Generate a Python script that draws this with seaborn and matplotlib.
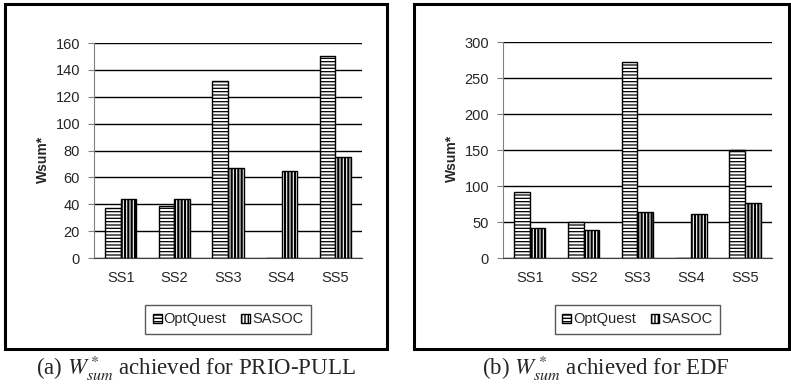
import pandas as pd
import matplotlib
matplotlib.use('Agg')
import matplotlib.pyplot as plt
import seaborn as sns
from matplotlib.patches import Patch, Rectangle

# values
subsystems = ['SS1', 'SS2', 'SS3', 'SS4', 'SS5']
methods = ['OptQuest', 'SASOC']
prio_optquest = [37, 39, 132, 0, 150]
prio_sasoc = [44, 44, 67, 65, 75]
edf_optquest = [92, 50, 273, 0, 150]
edf_sasoc = [42, 39, 64, 61, 76]
prio_ticks = [0, 20, 40, 60, 80, 100, 120, 140, 160]
edf_ticks = [0, 50, 100, 150, 200, 250, 300]
captions = [r'(a) $W^*_{sum}$ achieved for PRIO-PULL', r'(b) $W^*_{sum}$ achieved for EDF']

sns.set_style('white')
plt.rcParams['font.family'] = ['Liberation Sans', 'DejaVu Sans']
plt.rcParams['hatch.linewidth'] = 1.0
plt.rcParams['mathtext.fontset'] = 'stix'

hatches = ['-----', '|||||']
hatch_widths = [0.9, 1.6]


def make_frame(opt, sas):
    return pd.DataFrame({
        'subsystem': subsystems * 2,
        'method': [methods[0]] * len(subsystems) + [methods[1]] * len(subsystems),
        'wsum': opt + sas,
    })


def style_patch(p, h, w):
    p.set_hatch(h)
    if hasattr(p, 'set_hatch_linewidth'):
        p.set_hatch_linewidth(w)


def draw_panel(ax, df, ticks):
    sns.barplot(data=df, x='subsystem', y='wsum', hue='method', hue_order=methods,
                palette=['white', 'white'], edgecolor='black', linewidth=1.0,
                width=0.58, legend=False, ax=ax, zorder=3)
    for cont, h, w in zip(ax.containers, hatches, hatch_widths):
        for bar in cont:
            style_patch(bar, h, w)
    ax.set_ylim(ticks[0], ticks[-1])
    ax.set_yticks(ticks)
    ax.set_xlim(-0.5, len(subsystems) - 0.5)
    ax.set_axisbelow(True)
    ax.yaxis.grid(True, color='black', linewidth=1.0)
    ax.xaxis.grid(False)
    for s in ['top', 'right']:
        ax.spines[s].set_visible(False)
    ax.spines['left'].set_color('#808080')
    ax.spines['bottom'].set_color('#404040')
    # category boundary ticks on x, labels at centres
    ax.set_xticks([i - 0.5 for i in range(len(subsystems) + 1)], minor=True)
    ax.tick_params(axis='x', which='minor', length=4, color='#404040', direction='out')
    ax.tick_params(axis='x', which='major', length=0, pad=9, labelsize=10.5)
    ax.tick_params(axis='y', which='major', length=4, color='#808080', direction='out',
                   left=True, pad=6, labelsize=10.5)
    ax.set_xlabel('')
    ax.set_ylabel('Wsum*', fontsize=10, fontweight='bold')
    ax.yaxis.set_label_coords(-0.165, 0.46)

    handles = []
    for h, w, m in zip(hatches, hatch_widths, methods):
        p = Patch(facecolor='white', edgecolor='black', label=m)
        style_patch(p, h, w)
        handles.append(p)
    leg = ax.legend(handles=handles, loc='center', bbox_to_anchor=(0.5, -0.285), ncol=2,
                    frameon=True, fancybox=False, handlelength=0.6, handleheight=0.6,
                    handletextpad=0.15, columnspacing=1.0, fontsize=10.5,
                    borderpad=0.5, borderaxespad=0)
    leg.get_frame().set_edgecolor('#303030')
    leg.get_frame().set_linewidth(1.0)


fig = plt.figure(figsize=(7.91, 3.86), dpi=100)
ax1 = fig.add_axes([0.1188, 0.3316, 0.3389, 0.557])
ax2 = fig.add_axes([0.6359, 0.3316, 0.340, 0.559])

draw_panel(ax1, make_frame(prio_optquest, prio_sasoc), prio_ticks)
draw_panel(ax2, make_frame(edf_optquest, edf_sasoc), edf_ticks)

# outer boxes round each chart
fig.add_artist(Rectangle((0.0063, 0.0959), 0.483, 0.894, transform=fig.transFigure,
                         fill=False, edgecolor='black', linewidth=2.2))
fig.add_artist(Rectangle((0.5234, 0.0959), 0.474, 0.894, transform=fig.transFigure,
                         fill=False, edgecolor='black', linewidth=2.2))

for x, cap in zip([0.247, 0.766], captions):
    fig.text(x, 0.045, cap, ha='center', va='center', fontsize=16.5,
             family=['Liberation Serif', 'DejaVu Serif'])

fig.savefig('out.png', dpi=100)
